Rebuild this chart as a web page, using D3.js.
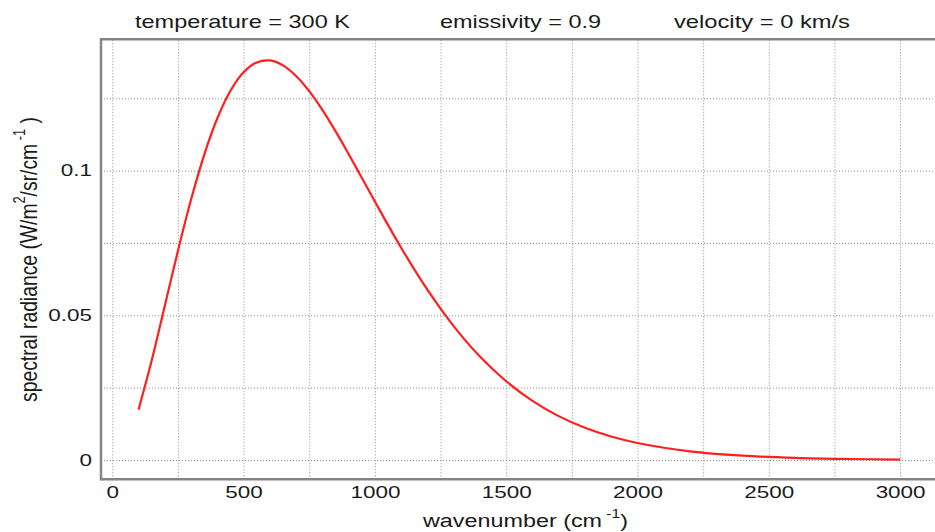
<!DOCTYPE html>
<html>
<head>
<meta charset="utf-8">
<script src="https://cdn.jsdelivr.net/npm/d3@7"></script>
<style>
  body { margin: 0; background: #fff; }
  svg { display: block; font-family: "Liberation Sans", Arial, sans-serif; }
  .grid line { stroke: #8c8c8c; stroke-width: 1; stroke-dasharray: 1,2; }
  .grid text { fill: #1a1a1a; font-size: 17px; }
  .frame { stroke: #858585; stroke-width: 2.5; }
</style>
</head>
<body>
<div id="chart"></div>
<script>
// wavenumber (cm-1) and spectral radiance (W/m2/sr/cm-1)
const wavenumber = [100, 150, 200, 250, 300, 350, 400, 450, 500, 550, 600, 650, 700, 750,
  800, 850, 900, 950, 1000, 1100, 1200, 1300, 1400, 1500, 1600, 1700, 1800, 1900,
  2000, 2200, 2400, 2600, 2800, 3000];
const radiance = [0.01742, 0.03435, 0.05328, 0.07230, 0.09001, 0.10546, 0.11808, 0.12760,
  0.13398, 0.13738, 0.13806, 0.13637, 0.13270, 0.12744, 0.12096, 0.11362, 0.10573,
  0.09755, 0.08932, 0.07336, 0.05884, 0.04626, 0.03574, 0.02720, 0.02043, 0.01516,
  0.01114, 0.00811, 0.00586, 0.00299, 0.00149, 0.00072, 0.00035, 0.00016];

const xGrid = d3.range(0, 3001, 250);
const yGrid = [0, 0.025, 0.05, 0.075, 0.1, 0.125];
const yLabels = { 0: "0", 0.05: "0.05", 0.1: "0.1" };
const headers = [
  { text: "temperature = 300 K", x: 135, w: 215 },
  { text: "emissivity = 0.9", x: 440, w: 161 },
  { text: "velocity = 0 km/s", x: 674, w: 176 },
];

const width = 935, height = 532;
const plot = { left: 101, right: 935, top: 39.3, bottom: 479.3 };
const stretch = 1.32; // the picture is wider than its glyphs

const svg = d3.select("#chart").append("svg")
  .attr("width", width)
  .attr("height", height);

const x = d3.scaleLinear().domain([-43, 3133]).range([plot.left, plot.right]);
const y = d3.scaleLinear().domain([-0.00667, 0.14537]).range([plot.bottom, plot.top]);

function widen(sel) {
  sel.each(function () {
    const len = this.getComputedTextLength();
    if (len > 0) {
      d3.select(this)
        .attr("textLength", len * stretch)
        .attr("lengthAdjust", "spacingAndGlyphs");
    }
  });
}

// vertical grid + x labels
const gx = svg.append("g")
  .attr("class", "grid")
  .attr("transform", `translate(0,${plot.bottom})`)
  .call(d3.axisBottom(x)
    .tickValues(xGrid)
    .tickSize(-(plot.bottom - plot.top))
    .tickFormat((d) => (d % 500 === 0 ? d : "")));
gx.select(".domain").remove();
gx.selectAll("text").attr("y", 19).attr("dy", 0);
widen(gx.selectAll("text"));

// horizontal grid + y labels
const gy = svg.append("g")
  .attr("class", "grid")
  .attr("transform", `translate(${plot.left},0)`)
  .call(d3.axisLeft(y)
    .tickValues(yGrid)
    .tickSize(-(plot.right - plot.left))
    .tickPadding(9)
    .tickFormat((d) => yLabels[d] || ""));
gy.select(".domain").remove();
gy.selectAll("text").attr("dy", "0.3em");
widen(gy.selectAll("text"));

// frame
svg.append("line").attr("class", "frame")
  .attr("x1", plot.left).attr("x2", plot.right)
  .attr("y1", plot.top).attr("y2", plot.top);
svg.append("line").attr("class", "frame")
  .attr("x1", plot.left).attr("x2", plot.right)
  .attr("y1", plot.bottom).attr("y2", plot.bottom);
svg.append("line").attr("class", "frame")
  .attr("x1", plot.left).attr("x2", plot.left)
  .attr("y1", plot.top - 1.2).attr("y2", plot.bottom + 1.2);

// curve
const line = d3.line()
  .x((d, i) => x(wavenumber[i]))
  .y((d) => y(d))
  .curve(d3.curveCatmullRom);

svg.append("path")
  .datum(radiance)
  .attr("fill", "none")
  .attr("stroke", "#ff1f1f")
  .attr("stroke-width", 2.2)
  .attr("d", line);

// header
svg.selectAll(".header")
  .data(headers)
  .join("text")
  .attr("class", "header")
  .attr("x", (d) => d.x)
  .attr("y", 28)
  .attr("font-size", 18.5)
  .attr("fill", "#1a1a1a")
  .attr("textLength", (d) => d.w)
  .attr("lengthAdjust", "spacingAndGlyphs")
  .text((d) => d.text);

// x label
const xl = svg.append("text")
  .attr("x", 423)
  .attr("y", 527)
  .attr("font-size", 18)
  .attr("fill", "#1a1a1a")
  .attr("textLength", 205)
  .attr("lengthAdjust", "spacingAndGlyphs");
xl.append("tspan").text("wavenumber (cm");
xl.append("tspan").attr("font-size", 12).attr("dy", -9).text(" -1");
xl.append("tspan").attr("dy", 9).text(")");

// y label
const yl = svg.append("text")
  .attr("transform", `translate(37,259.5) scale(1.3,1) rotate(-90)`)
  .attr("text-anchor", "middle")
  .attr("font-size", 18)
  .attr("fill", "#1a1a1a")
  .attr("textLength", 285)
  .attr("lengthAdjust", "spacingAndGlyphs");
yl.append("tspan").text("spectral radiance (W/m");
yl.append("tspan").attr("font-size", 12).attr("dy", -9).text("2");
yl.append("tspan").attr("dy", 9).text("/sr/cm");
yl.append("tspan").attr("font-size", 12).attr("dy", -9).text(" -1");
yl.append("tspan").attr("dy", 9).text(" )");
</script>
</body>
</html>
